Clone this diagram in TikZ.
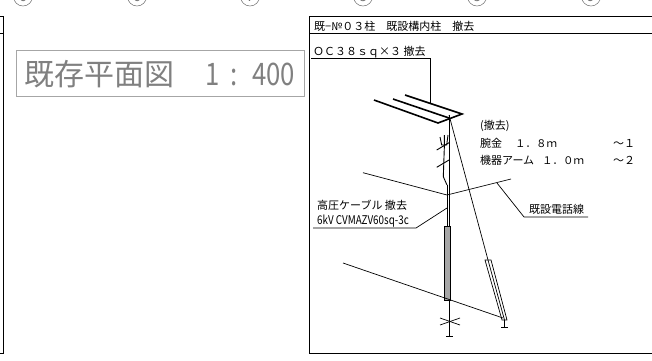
\documentclass[tikz,border=0pt]{standalone}
\usepackage{fontspec}
\setmainfont{Noto Sans CJK JP}
\usetikzlibrary{positioning}
\tikzset{
	dwg/.style={x=1pt,y=-1pt},
	frameline/.style={line width=1pt,black},
	thinline/.style={line width=0.7pt,black},
	cableline/.style={line width=0.9pt,black},
	armline/.style={line width=1.6pt,black},
	label/.style={inner sep=0pt,anchor=base west,text=black,font=\fontsize{11}{11}\selectfont},
	labelnarrow/.style={label,font=\fontsize{12}{12}\selectfont,xscale=0.82,transform shape},
	titlelabel/.style={inner sep=0pt,anchor=base west,text=black!50,font=\fontsize{30}{30}\selectfont},
	titledigit/.style={titlelabel,font=\fontsize{31}{31}\selectfont,xscale=0.83,transform shape},
	gridmark/.style={draw=black!55,circle,line width=0.5pt,minimum size=19pt,inner sep=0pt,text=black!55,font=\fontsize{14}{14}\selectfont}
}
\begin{document}
\begin{tikzpicture}[dwg]
	\useasboundingbox (0,0) rectangle (652,360);
	\begin{scope}
		\clip (0,0) rectangle (652,360);
		\node[gridmark] (m1) at (23,-3.5) {6};
		\node[gridmark] (m2) at (137,-3.5) {6};
		\node[gridmark] (m3) at (250,-3.5) {7};
		\node[gridmark] (m4) at (363,-3.5) {8};
		\node[gridmark] (m5) at (477,-3.5) {8};
		\node[gridmark] (m6) at (591,-3.5) {9};
	\end{scope}

	% left frame
	\draw[frameline] (0,16.5) -- (3.5,16.5) -- (3.5,353) -- (0,353);
	\draw[frameline] (0,33) -- (3.5,33);

	% scale title
	\node[draw=black!35,line width=0.8pt,minimum width=288pt,minimum height=46pt,inner sep=0pt] (title) at (160,73.7) {};
	\node[titlelabel] (titletext) at (24,85) {既存平面図};
	\node[titledigit] (titlescale) at (205,85) {1};
	\node[titledigit] (titlecolon) at (230,85) {:};
	\node[titledigit] (titleratio) at (252,85) {400};

	% right frame
	\draw[frameline] (652,16.5) -- (309,16.5) -- (309,353) -- (652,353);
	\draw[frameline] (309,33) -- (652,33);
	\node[label] (head) at (314,30.5) {既−№０３柱　既設構内柱　撤去};

	% cable label
	\node[label] (oc) at (313,55) {ＯＣ３８ｓｑ×３ 撤去};
	\coordinate (octail) at (311,58);
	\coordinate (occorner) at (430,58);
	\coordinate (octip) at (430,103);
	\draw[thinline] (octail) -- (occorner) -- (octip);

	% arms
	\draw[armline] (374,100) -- (438,123) -- (462,114) -- (405,95);
	\draw[armline] (393,99) -- (449,118);

	% pole
	\coordinate (poletop) at (449,115);
	\coordinate (polebase) at (449,336);
	\draw[thinline] (447,185) -- (447,300);
	\draw[cableline] (poletop) -- (polebase);

	% stay
	\coordinate (staytop) at (488,260);
	\draw[thinline] (poletop) -- (staytop);
	\draw[thinline] (485,260) -- (491,260) -- (507,320) -- (502,320) -- cycle;
	\draw[thinline] (staytop) -- (504.5,320);
	\draw[thinline] (504.5,320) -- (504.5,327);
	\draw[thinline] (501,327) -- (508,327);

	% base details
	\draw[line width=1pt,fill=black!35] (444,226) rectangle (450,300);
	\draw[thinline] (446,336) -- (453,336);
	\draw[thinline] (440,318) -- (460,325);
	\draw[thinline] (440,325) -- (460,318);

	% cable on pole
	\draw[cableline] (440,137) -- (441.7,145) -- (446.7,145) -- (448,135);
	\draw[cableline] (444.3,135) -- (444.3,148) -- (443.3,176.7) -- (447,185);
	\draw[cableline] (436.7,150) -- (449,142.7);
	\draw[cableline] (436.7,167.3) -- (449,160);

	% wires
	\draw[thinline] (363,172.7) -- (447,195);
	\draw[thinline] (447,195) -- (511,179);
	\draw[thinline] (343,263) -- (503,318);

	% removal list
	\node[label] (rm) at (480,129) {(撤去)};
	\node[label] (rma) at (480,147) {腕金};
	\node[label,font=\fontsize{10.5}{10.5}\selectfont] (rmav) at (515,147) {１．８ｍ};
	\node[label] (rmat) at (613,147) {～１};
	\node[label] (rmb) at (480,164) {機器アーム};
	\node[label,font=\fontsize{10.5}{10.5}\selectfont] (rmbv) at (542,164) {１．０ｍ};
	\node[label] (rmbt) at (613,164) {～２};

	% telephone wire label
	\node[label] (tel) at (529,213) {既設電話線};
	\coordinate (teltail) at (588,217);
	\coordinate (telcorner) at (524,217);
	\coordinate (teltip) at (497,183);
	\draw[thinline] (teltail) -- (telcorner) -- (teltip);

	% high voltage cable label
	\node[label] (hv) at (317,209.5) {高圧ケーブル 撤去};
	\node[labelnarrow] (hvb) at (317,224) {6kV CVMAZV60sq-3c};
	\coordinate (hvtail) at (313,228);
	\coordinate (hvcorner) at (416,228);
	\coordinate (hvtip) at (447,208);
	\draw[thinline] (hvtail) -- (hvcorner) -- (hvtip);
\end{tikzpicture}
\end{document}
